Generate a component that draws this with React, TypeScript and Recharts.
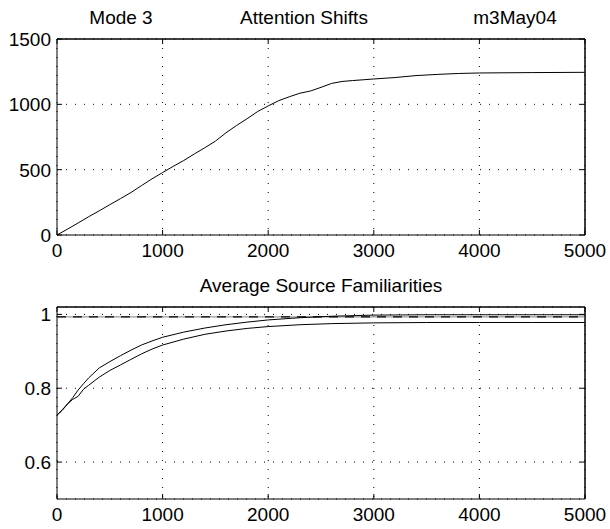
import { LineChart, Line, XAxis, YAxis, CartesianGrid, ReferenceLine } from 'recharts';

const stepTicks = [0, 1000, 2000, 3000, 4000, 5000];
const shiftTicks = [0, 500, 1000, 1500];
const famTicks = [0.6, 0.8, 1];

const shiftSteps = [0, 100, 200, 300, 400, 500, 600, 700, 800, 900, 1000, 1100, 1200, 1300, 1400, 1500, 1600, 1700, 1800, 1900, 2000, 2100, 2200, 2300, 2400, 2500, 2600, 2700, 2800, 2900, 3000, 3200, 3400, 3600, 3800, 4000, 4500, 5000];
const shiftCounts = [0, 45, 92, 140, 185, 232, 278, 325, 378, 430, 478, 525, 570, 620, 668, 718, 782, 838, 890, 945, 988, 1028, 1058, 1085, 1102, 1130, 1160, 1175, 1182, 1188, 1194, 1205, 1220, 1229, 1236, 1240, 1243, 1245];

const famSteps = [0, 50, 100, 150, 200, 250, 300, 400, 500, 600, 700, 800, 900, 1000, 1200, 1400, 1600, 1800, 2000, 2300, 2600, 3000, 3500, 4000, 4500, 5000];
const famUpper = [0.727, 0.742, 0.757, 0.775, 0.795, 0.812, 0.828, 0.855, 0.872, 0.888, 0.903, 0.917, 0.928, 0.938, 0.952, 0.963, 0.972, 0.979, 0.985, 0.991, 0.995, 0.998, 0.999, 0.999, 0.999, 0.999];
const famLower = [0.727, 0.74, 0.758, 0.77, 0.778, 0.797, 0.808, 0.83, 0.848, 0.863, 0.878, 0.893, 0.906, 0.917, 0.933, 0.946, 0.955, 0.962, 0.967, 0.972, 0.975, 0.977, 0.978, 0.978, 0.978, 0.978];
const famTarget = 0.993;

const shiftData = shiftSteps.map((s, i) => ({ step: s, shifts: shiftCounts[i] }));
const famData = famSteps.map((s, i) => ({ step: s, upper: famUpper[i], lower: famLower[i] }));

const FONT = '"Liberation Sans", Arial, Helvetica, sans-serif';
const FS = 19;
const TICK = 5;

// inward ticks, matlab style
const BottomTick = (p: any) => (
  <g>
    <line x1={p.x} y1={p.y} x2={p.x} y2={p.y - TICK} stroke="#000" />
    <text x={p.x} y={p.y + 22} textAnchor="middle" fontSize={FS} fontFamily={FONT} fill="#000">{p.payload.value}</text>
  </g>
);
const TopTick = (p: any) => <line x1={p.x} y1={p.y} x2={p.x} y2={p.y + TICK} stroke="#000" />;
const LeftTick = (p: any) => (
  <g>
    <line x1={p.x} y1={p.y} x2={p.x + TICK} y2={p.y} stroke="#000" />
    <text x={p.x - 6} y={p.y + 7} textAnchor="end" fontSize={FS} fontFamily={FONT} fill="#000">{String(p.payload.value)}</text>
  </g>
);
const RightTick = (p: any) => <line x1={p.x} y1={p.y} x2={p.x - TICK} y2={p.y} stroke="#000" />;

function Frame(props: { yTicks: number[]; yDomain: [number, number] }) {
  return [
    <XAxis key="xb" dataKey="step" type="number" domain={[0, 5000]} ticks={stepTicks} height={30} tickSize={0} tickMargin={0} tickLine={false} tick={<BottomTick />} axisLine={{ stroke: '#000' }} allowDataOverflow />,
    <XAxis key="xt" xAxisId="top" dataKey="step" orientation="top" type="number" domain={[0, 5000]} ticks={stepTicks} height={1} tickSize={0} tickMargin={0} tickLine={false} tick={<TopTick />} axisLine={{ stroke: '#000' }} allowDataOverflow />,
    <YAxis key="yl" type="number" domain={props.yDomain} ticks={props.yTicks} width={57} tickSize={0} tickMargin={0} tickLine={false} tick={<LeftTick />} axisLine={{ stroke: '#000' }} allowDataOverflow />,
    <YAxis key="yr" yAxisId="right" orientation="right" type="number" domain={props.yDomain} ticks={props.yTicks} width={1} tickSize={0} tickMargin={0} tickLine={false} tick={<RightTick />} axisLine={{ stroke: '#000' }} allowDataOverflow />,
  ];
}

export default function App() {
  return (
    <div style={{ position: 'absolute', left: 0, top: 0, width: 610, height: 529, background: '#fff' }}>
      <svg width={610} height={529} style={{ position: 'absolute', left: 0, top: 0 }}>
        <text x={121} y={24} textAnchor="middle" fontSize={FS} fontFamily={FONT}>Mode 3</text>
        <text x={304} y={24} textAnchor="middle" fontSize={FS} fontFamily={FONT}>Attention Shifts</text>
        <text x={515} y={24} textAnchor="middle" fontSize={FS} fontFamily={FONT}>m3May04</text>
        <text x={321} y={292} textAnchor="middle" fontSize={FS} fontFamily={FONT}>Average Source Familiarities</text>
      </svg>

      <div style={{ position: 'absolute', left: 0, top: 0 }}>
        <LineChart width={610} height={265} data={shiftData} margin={{ top: 38, right: 24, bottom: 0, left: 0 }}>
          <CartesianGrid stroke="#000" strokeDasharray="1 8" />
          {Frame({ yTicks: shiftTicks, yDomain: [0, 1500] })}
          <ReferenceLine y={1500} stroke="#000" ifOverflow="extendDomain" />
          <ReferenceLine x={5000} stroke="#000" ifOverflow="extendDomain" />
          {/* hidden copy so the top/right frame axes get drawn */}
          <Line xAxisId="top" yAxisId="right" dataKey="shifts" stroke="none" dot={false} isAnimationActive={false} />
          <Line dataKey="shifts" type="linear" stroke="#000" strokeWidth={1} dot={false} isAnimationActive={false} />
        </LineChart>
      </div>

      <div style={{ position: 'absolute', left: 0, top: 270 }}>
        <LineChart width={610} height={259} data={famData} margin={{ top: 36, right: 24, bottom: 0, left: 0 }}>
          <CartesianGrid stroke="#000" strokeDasharray="1 8" />
          {Frame({ yTicks: famTicks, yDomain: [0.5, 1.02] })}
          <ReferenceLine y={1.02} stroke="#000" ifOverflow="extendDomain" />
          <ReferenceLine x={5000} stroke="#000" ifOverflow="extendDomain" />
          <ReferenceLine y={famTarget} stroke="#999" strokeWidth={1.2} />
          <ReferenceLine y={famTarget} stroke="#000" strokeWidth={1.2} strokeDasharray="9 7" />
          <Line xAxisId="top" yAxisId="right" dataKey="upper" stroke="none" dot={false} isAnimationActive={false} />
          <Line dataKey="upper" type="linear" stroke="#000" strokeWidth={1} dot={false} isAnimationActive={false} />
          <Line dataKey="lower" type="linear" stroke="#000" strokeWidth={1} dot={false} isAnimationActive={false} />
        </LineChart>
      </div>
    </div>
  );
}
